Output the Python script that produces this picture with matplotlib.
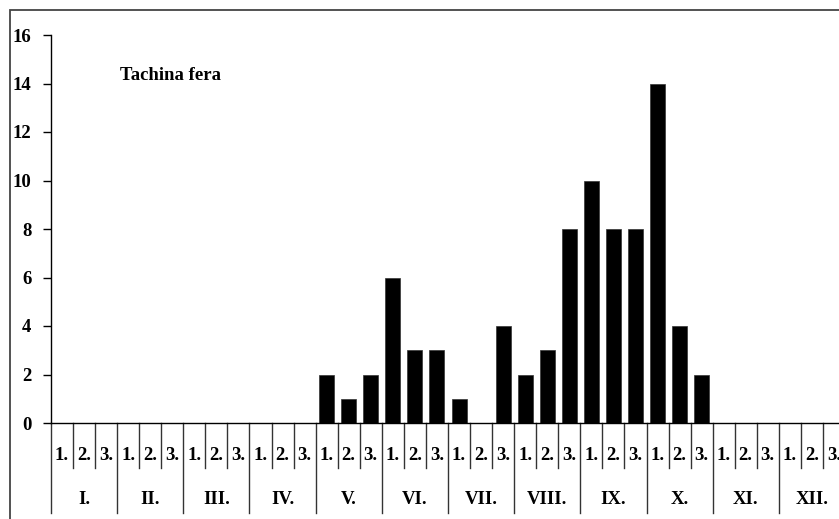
import matplotlib
matplotlib.use("Agg")
import matplotlib.pyplot as plt
from matplotlib.patches import Rectangle
from matplotlib.transforms import blended_transform_factory

months = ["I.", "II.", "III.", "IV.", "V.", "VI.", "VII.", "VIII.", "IX.", "X.", "XI.", "XII."]
decades = ["1.", "2.", "3."]
values = [0, 0, 0,  0, 0, 0,  0, 0, 0,  0, 0, 0,
          2, 1, 2,  6, 3, 3,  1, 0, 4,  2, 3, 8,
          10, 8, 8,  14, 4, 2,  0, 0, 0,  0, 0, 0]
title = "Tachina fera"
yticks = [0, 2, 4, 6, 8, 10, 12, 14, 16]

plt.rcParams['font.family'] = ['Liberation Serif', 'DejaVu Serif']
plt.rcParams['font.weight'] = 'bold'
FS = 13.5

W, H = 839, 519
fig = plt.figure(figsize=(W / 100, H / 100), dpi=100)

# outer frame
fig.patches.append(Rectangle((10 / W, -0.1), 1.2, 1 - 10 / H + 0.1, transform=fig.transFigure,
                             fill=False, edgecolor='#444444', lw=1.3))

x0, x1 = 51, 845
y0, y1 = 423, 35
ax = fig.add_axes([x0 / W, 1 - y0 / H, (x1 - x0) / W, (y0 - y1) / H])
ax.set_facecolor('none')

n = len(values)
xs = [i + 0.5 for i in range(n)]
ax.bar(xs, values, width=0.68, color='black', edgecolor='#333333', lw=0.5)
ax.set_xlim(0, n)
ax.set_ylim(0, 16)
ax.set_yticks(yticks)
ax.set_yticklabels([str(t) for t in yticks], fontsize=FS, fontweight='bold')
ax.tick_params(axis='y', length=6, width=1, direction='out', pad=8)
ax.set_xticks([])
for s in ['top', 'right']:
    ax.spines[s].set_visible(False)
ax.spines['left'].set_linewidth(1)
ax.spines['bottom'].set_linewidth(1)

ah = y0 - y1
trans = blended_transform_factory(ax.transData, ax.transAxes)
small_len = 45 / ah
month_len = 90 / ah
for i in range(n + 1):
    L = month_len if i % 3 == 0 else small_len
    ax.plot([i, i], [0, -L], transform=trans, color='#333333', lw=1, clip_on=False)
for i in range(n):
    ax.text(i + 0.5, -33 / ah, decades[i % 3], transform=trans, ha='center', va='center',
            fontsize=FS, fontweight='bold')
for m, name in enumerate(months):
    ax.text(3 * m + 1.5, -77 / ah, name, transform=trans, ha='center', va='center',
            fontsize=FS, fontweight='bold')

ax.text(171 / W, 1 - 76 / H, title, transform=fig.transFigure, ha='center', va='center',
        fontsize=FS, fontweight='bold')

fig.savefig("out.png", dpi=100)
